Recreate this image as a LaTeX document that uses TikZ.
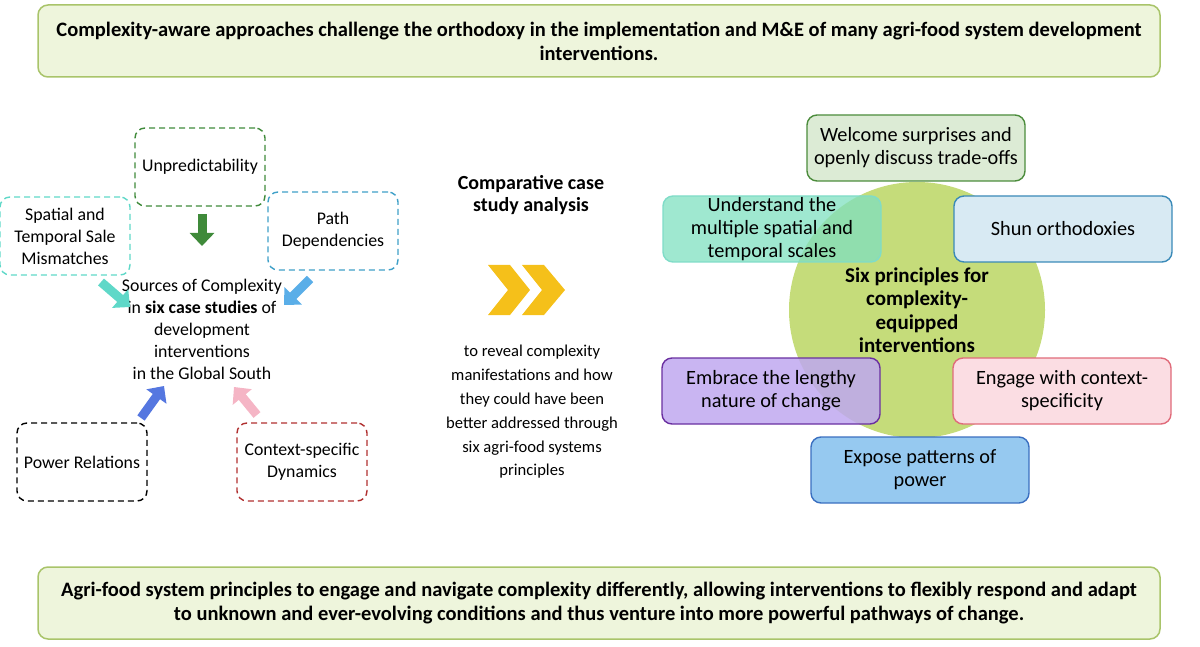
\documentclass[tikz,border=0pt]{standalone}
\usepackage{fontspec}
\setmainfont{Carlito}
\usepackage{xcolor}
\usetikzlibrary{positioning,shapes,calc,arrows.meta}

\definecolor{frameG}{HTML}{A9C46A}
\definecolor{fillG}{HTML}{EEF5DC}
\definecolor{discG}{HTML}{C5DC7A}
\definecolor{chevron}{HTML}{F5C01A}
\definecolor{unpredC}{HTML}{3F8A3A}
\definecolor{spatialC}{HTML}{5FD8C8}
\definecolor{pathC}{HTML}{3FA0C8}
\definecolor{pathA}{HTML}{5AAEE8}
\definecolor{powerA}{HTML}{5577E0}
\definecolor{contextC}{HTML}{B03030}
\definecolor{contextA}{HTML}{F5B5C5}
\definecolor{welcomeD}{HTML}{4C8C3C}
\definecolor{welcomeF}{HTML}{DCEBD5}
\definecolor{scalesD}{HTML}{80DCC8}
\definecolor{scalesF}{HTML}{7FE0C0}
\definecolor{shunD}{HTML}{3A8AB8}
\definecolor{shunF}{HTML}{D8EAF3}
\definecolor{embraceD}{HTML}{6A2FA0}
\definecolor{embraceF}{HTML}{BFA8F0}
\definecolor{engageD}{HTML}{E06B7A}
\definecolor{engageF}{HTML}{FBDDE3}
\definecolor{exposeD}{HTML}{3A6FC0}
\definecolor{exposeF}{HTML}{96C9F0}

\tikzset{
  banner/.style={draw=frameG, line width=1.5pt, fill=fillG, rounded corners=10pt,
    minimum width=1122pt, minimum height=72pt, align=center,
    font=\fontsize{20.5}{24}\selectfont\bfseries},
  source/.style={dash pattern=on 6pt off 4pt, line width=1.4pt, rounded corners=10pt, minimum width=130pt,
    minimum height=78pt, inner sep=1pt, align=center, font=\fontsize{17.8}{22}\selectfont},
  principle/.style={line width=1.4pt, rounded corners=10pt, minimum width=218pt,
    minimum height=66pt, inner sep=1pt, align=center, font=\fontsize{20.3}{23}\selectfont},
  fat/.style={line width=9pt, -{Triangle[width=24pt,length=13pt]}},
}

\begin{document}
\begin{tikzpicture}[x=1pt,y=-1pt]
  \useasboundingbox (0,0) rectangle (1200,647);

  % banners
  \node[banner] (top) at (599,41) {Complexity-aware approaches challenge the orthodoxy in the implementation and M\&E of many agri-food system development\\interventions.};
  \node[banner] (bottom) at (599,603) {Agri-food system principles to engage and navigate complexity differently, allowing interventions to flexibly respond and adapt\\to unknown and ever-evolving conditions and thus venture into more powerful pathways of change.};

  % sources of complexity
  \node[source, draw=unpredC] (unpred) at (200,167) {Unpredictability};
  \node[source, draw=spatialC] (spatial) at (65,236) {Spatial and\\Temporal Sale\\Mismatches};
  \node[source, draw=pathC] (path) at (333,231) {Path\\Dependencies};
  \node[source, draw=black] (power) at (82,462) {Power Relations};
  \node[source, draw=contextC] (context) at (302,462) {Context-specific\\Dynamics};
  \node[align=center, font=\fontsize{17.8}{22}\selectfont] (sources) at (202,329)
    {Sources of Complexity\\in \textbf{six case studies} of\\development\\interventions\\in the Global South};

  \coordinate (a1) at (202,214); \coordinate (a2) at (202,246);
  \coordinate (b1) at (101,282); \coordinate (b2) at (130,307);
  \coordinate (c1) at (310,279); \coordinate (c2) at (284,305);
  \coordinate (d1) at (141,418); \coordinate (d2) at (164,386);
  \coordinate (e1) at (257,415); \coordinate (e2) at (234,387);
  \draw[fat, unpredC] (a1) -- (a2);
  \draw[fat, spatialC] (b1) -- (b2);
  \draw[fat, pathA] (c1) -- (c2);
  \draw[fat, powerA] (d1) -- (d2);
  \draw[fat, contextA] (e1) -- (e2);

  % case study analysis
  \node[align=center, font=\fontsize{20}{22}\selectfont\bfseries] (compar) at (531,195) {Comparative case\\study analysis};
  \fill[chevron] (488,265) -- (510,265) -- (530,290) -- (510,315) -- (488,315) -- (508,290) -- cycle;
  \fill[chevron] (522,265) -- (544,265) -- (565,290) -- (544,315) -- (522,315) -- (542,290) -- cycle;
  \node[align=center, font=\fontsize{16.6}{23.8}\selectfont] (reveal) at (532,412)
    {to reveal complexity\\manifestations and how\\they could have been\\better addressed through\\six agri-food systems\\principles};

  % six principles
  \fill[discG] (917,310) circle (128);
  \node[align=center, font=\fontsize{21}{23.5}\selectfont\bfseries] (six) at (917,310)
    {Six principles for\\complexity-\\equipped\\interventions};
  \node[principle, draw=welcomeD, fill=welcomeF] (welcome) at (916,148) {Welcome surprises and\\openly discuss trade-offs};
  \node[principle, draw=scalesD, fill=scalesF, fill opacity=0.75, text opacity=1] (scales) at (772,229) {Understand the\\multiple spatial and\\temporal scales};
  \node[principle, draw=shunD, fill=shunF] (shun) at (1063,229) {Shun orthodoxies};
  \node[principle, draw=embraceD, fill=embraceF, fill opacity=0.85, text opacity=1] (embrace) at (771,391) {Embrace the lengthy\\nature of change};
  \node[principle, draw=engageD, fill=engageF] (engage) at (1062,391) {Engage with context-\\specificity};
  \node[principle, draw=exposeD, fill=exposeF] (expose) at (920,470) {Expose patterns of\\power};
\end{tikzpicture}
\end{document}
